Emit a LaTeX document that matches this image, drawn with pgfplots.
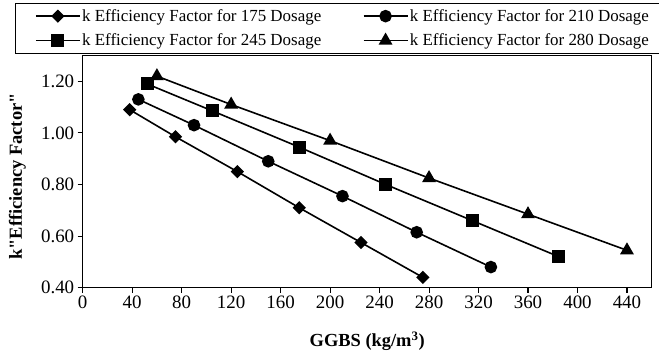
\documentclass[border=0pt]{standalone}
\usepackage{fontspec}
\setmainfont{Liberation Serif}
\usepackage{pgfplots}
\pgfplotsset{compat=1.18}

% k efficiency factor against GGBS content, one series per binder dosage
\pgfplotstableread{
x    y
38   1.09
75   0.985
125  0.85
175  0.71
225  0.575
275  0.44
}\dosA
\pgfplotstableread{
x    y
45   1.13
90   1.03
150  0.89
210  0.755
270  0.615
330  0.48
}\dosB
\pgfplotstableread{
x    y
52   1.19
105  1.085
175  0.945
245  0.80
315  0.66
385  0.52
}\dosC
\pgfplotstableread{
x    y
60   1.22
120  1.11
200  0.97
280  0.825
360  0.685
440  0.545
}\dosD

\begin{document}
\begin{tikzpicture}
\begin{axis}[
  at={(82.7bp,-287.7bp)}, anchor=south west,
  scale only axis, width=569bp, height=232.2bp,
  xmin=0, xmax=460, ymin=0.4, ymax=1.3,
  xtick={0,40,...,440},
  ytick={0.4,0.6,...,1.21},
  yticklabel style={/pgf/number format/.cd,fixed,fixed zerofill,precision=2},
  /pgf/number format/assume math mode=true,
  tick label style={font=\fontsize{19}{21}\selectfont},
  tick align=outside, tick pos=left,
  major tick length=5bp,
  axis line style={line width=1.3bp},
  every tick/.style={line width=1.1bp, black},
  xlabel={\textbf{GGBS (kg/m\textsuperscript{3})}},
  ylabel={\textbf{k\textquotedbl Efficiency Factor\textquotedbl}},
  label style={font=\fontsize{18.5}{20}\selectfont},
  xlabel style={at={(axis description cs:0.5,-0.254)}, anchor=base},
  ylabel style={at={(axis description cs:-0.1146,0.479)}, anchor=center},
  legend columns=2,
  legend image code/.code={%
    \draw[mark repeat=2,mark phase=2]
      plot coordinates {(0bp,0bp) (22bp,0bp) (44bp,0bp)};},
  legend style={
    at={(axis description cs:-0.1195,1.226)}, anchor=north west,
    font=\fontsize{17}{19}\selectfont,
    draw=black, line width=0.8bp,
    inner xsep=20bp, inner ysep=0.5bp,
    nodes={inner xsep=1.5bp, inner ysep=5.5bp},
    /tikz/every even column/.append style={column sep=40bp},
  },
  every axis plot/.append style={black, line width=1.6bp, mark options={solid}},
]
\addplot[mark=square*, mark size=3.9bp, mark options={rotate=45}] table {\dosA};
\addlegendentry{k Efficiency Factor for 175 Dosage}
\addplot[mark=*, mark size=5.5bp] table {\dosB};
\addlegendentry{k Efficiency Factor for 210 Dosage\hspace*{12bp}}
\addplot[mark=square*, mark size=5.7bp] table {\dosC};
\addlegendentry{k Efficiency Factor for 245 Dosage}
\addplot[mark=triangle*, mark size=6.4bp] table {\dosD};
\addlegendentry{k Efficiency Factor for 280 Dosage\hspace*{12bp}}
\end{axis}
\pgfresetboundingbox
\path (0bp,0bp) rectangle (659bp,-356bp);
\end{tikzpicture}
\end{document}
